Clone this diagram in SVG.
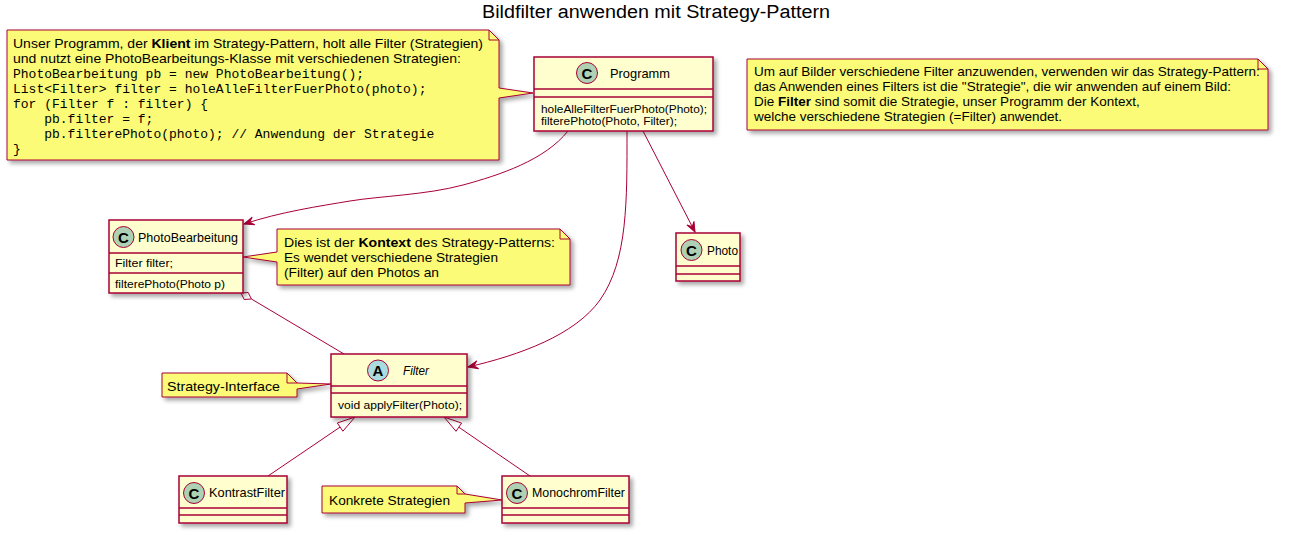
<svg xmlns="http://www.w3.org/2000/svg" width="1303" height="533" viewBox="0 0 1303 533">
<defs>
<filter id="sh" x="-10%" y="-10%" width="130%" height="140%">
<feDropShadow dx="3" dy="3" stdDeviation="2" flood-color="#000" flood-opacity="0.35"/>
</filter>
<marker id="arr" viewBox="-11 -5 12 10" refX="0" refY="0" markerWidth="12" markerHeight="10" orient="auto" markerUnits="userSpaceOnUse">
<path d="M0,0 L-10,-4 L-6,0 L-10,4 Z" fill="#A80036" stroke="#A80036" stroke-width="1"/>
</marker>
</defs>
<style>
.cls{fill:#FEFECE;stroke:#A80036;stroke-width:1.5;filter:url(#sh)}
.sep{stroke:#A80036;stroke-width:1.5;fill:none}
.note{fill:#FBFB77;stroke:#A80036;stroke-width:1;filter:url(#sh)}
.fold{fill:none;stroke:#A80036;stroke-width:1}
.t{font-family:"Liberation Sans",Arial,sans-serif;fill:#000}
.nt{font-family:"Liberation Sans",Arial,sans-serif;font-size:13.5px;fill:#000}
.mono{font-family:"Liberation Mono","Courier New",monospace;font-size:13px;fill:#000}
.name{font-family:"Liberation Sans",Arial,sans-serif;font-size:13px;fill:#000}
.mem{font-family:"Liberation Sans",Arial,sans-serif;font-size:11px;fill:#000}
.circC{fill:#ADD1B2;stroke:#A80036;stroke-width:1}
.circA{fill:#A9DCDF;stroke:#A80036;stroke-width:1}
.ltr{font-family:"Liberation Sans",Arial,sans-serif;font-size:15px;font-weight:bold;fill:#000;text-anchor:middle}
.edge{fill:none;stroke:#A80036;stroke-width:1}
</style>
<rect width="1303" height="533" fill="#FFFFFF"/>
<text class="t" x="656" y="18" font-size="18" text-anchor="middle" textLength="348" lengthAdjust="spacingAndGlyphs">Bildfilter anwenden mit Strategy-Pattern</text>

<g id="connectors">
<path class="edge" d="M568,131 C545,160 500,175 463,185 S380,196 350,201 S280,212 244,224" marker-end="url(#arr)"/>
<path class="edge" d="M627,131 C627,200 628,260 600,300 C575,335 520,355 468,367" marker-end="url(#arr)"/>
<path class="edge" d="M643,131 L695,232" marker-end="url(#arr)"/>
<path class="edge" d="M251.4,299 L344,354"/>
<polygon points="241,293 248.2,292.5 251.4,299 244.2,299.5" fill="#FFFFFF" stroke="#A80036" stroke-width="1"/>
<path class="edge" d="M268,476 L340.1,427.1"/>
<polygon points="355,417 342.9,431.2 337.3,423" fill="#FFFFFF" stroke="#A80036" stroke-width="1"/>
<path class="edge" d="M530,476 L458.8,427.2"/>
<polygon points="444,417 461.6,423.1 456,431.3" fill="#FFFFFF" stroke="#A80036" stroke-width="1"/>
</g>

<g id="note-klient">
<path class="note" d="M7,30 L489,30 L499,40 L499,88 L533,93 L499,98 L499,160 L7,160 Z"/>
<path class="fold" d="M489,30 L489,40 L499,40"/>
<text class="nt" x="13" y="47.5" textLength="470" lengthAdjust="spacingAndGlyphs">Unser Programm, der <tspan font-weight="bold">Klient</tspan> im Strategy-Pattern, holt alle Filter (Strategien)</text>
<text class="nt" x="13" y="62.5" textLength="448" lengthAdjust="spacingAndGlyphs">und nutzt eine PhotoBearbeitungs-Klasse mit verschiedenen Strategien:</text>
<text class="mono" x="13" y="77.5">PhotoBearbeitung pb = new PhotoBearbeitung();</text>
<text class="mono" x="13" y="92.5">List&lt;Filter&gt; filter = holeAlleFilterFuerPhoto(photo);</text>
<text class="mono" x="13" y="107.5">for (Filter f : filter) {</text>
<text class="mono" x="44.2" y="122.5">pb.filter = f;</text>
<text class="mono" x="44.2" y="137.5">pb.filterePhoto(photo); // Anwendung der Strategie</text>
<text class="mono" x="13" y="152.5">}</text>
</g>

<g id="note-info">
<path class="note" d="M747,59 L1258,59 L1268,69 L1268,130 L747,130 Z"/>
<path class="fold" d="M1258,59 L1258,69 L1268,69"/>
<text class="nt" x="754" y="76">Um auf Bilder verschiedene Filter anzuwenden, verwenden wir das Strategy-Pattern:</text>
<text class="nt" x="754" y="91">das Anwenden eines Filters ist die "Strategie", die wir anwenden auf einem Bild:</text>
<text class="nt" x="754" y="106">Die <tspan font-weight="bold">Filter</tspan> sind somit die Strategie, unser Programm der Kontext,</text>
<text class="nt" x="754" y="121">welche verschiedene Strategien (=Filter) anwendet.</text>
</g>

<g id="Programm">
<rect class="cls" x="534" y="57" width="179" height="74"/>
<line class="sep" x1="534" y1="89" x2="713" y2="89"/>
<line class="sep" x1="534" y1="97" x2="713" y2="97"/>
<circle class="circC" cx="587" cy="73" r="10.5"/>
<text class="ltr" x="587" y="78.5">C</text>
<text class="name" x="610" y="77.5" textLength="60" lengthAdjust="spacingAndGlyphs">Programm</text>
<text class="mem" x="541" y="113" textLength="166" lengthAdjust="spacingAndGlyphs">holeAlleFilterFuerPhoto(Photo);</text>
<text class="mem" x="541" y="124.5" textLength="136" lengthAdjust="spacingAndGlyphs">filterePhoto(Photo, Filter);</text>
</g>

<g id="PhotoBearbeitung">
<rect class="cls" x="109" y="220" width="134" height="73"/>
<line class="sep" x1="109" y1="253" x2="243" y2="253"/>
<line class="sep" x1="109" y1="273" x2="243" y2="273"/>
<circle class="circC" cx="123.5" cy="237" r="10.5"/>
<text class="ltr" x="123.5" y="242.5">C</text>
<text class="name" x="138" y="241.5" textLength="100" lengthAdjust="spacingAndGlyphs">PhotoBearbeitung</text>
<text class="mem" x="115" y="267" textLength="58" lengthAdjust="spacingAndGlyphs">Filter filter;</text>
<text class="mem" x="115" y="288" textLength="110" lengthAdjust="spacingAndGlyphs">filterePhoto(Photo p)</text>
</g>

<g id="note-kontext">
<path class="note" d="M277,229 L560,229 L570,239 L570,285 L277,285 L277,262 L243,257 L277,252 Z"/>
<path class="fold" d="M560,229 L560,239 L570,239"/>
<text class="nt" x="284" y="247" textLength="271" lengthAdjust="spacingAndGlyphs">Dies ist der <tspan font-weight="bold">Kontext</tspan> des Strategy-Patterns:</text>
<text class="nt" x="284" y="262" textLength="214" lengthAdjust="spacingAndGlyphs">Es wendet verschiedene Strategien</text>
<text class="nt" x="284" y="276.5" textLength="155" lengthAdjust="spacingAndGlyphs">(Filter) auf den Photos an</text>
</g>

<g id="Photo">
<rect class="cls" x="676" y="233" width="64" height="48"/>
<line class="sep" x1="676" y1="266" x2="740" y2="266"/>
<line class="sep" x1="676" y1="274" x2="740" y2="274"/>
<circle class="circC" cx="691.5" cy="250" r="10.5"/>
<text class="ltr" x="691.5" y="255.5">C</text>
<text class="name" x="707" y="254.5" textLength="31" lengthAdjust="spacingAndGlyphs">Photo</text>
</g>

<g id="Filter">
<rect class="cls" x="331" y="354" width="136" height="63"/>
<line class="sep" x1="331" y1="386" x2="467" y2="386"/>
<line class="sep" x1="331" y1="393" x2="467" y2="393"/>
<circle class="circA" cx="378" cy="370.5" r="10.5"/>
<text class="ltr" x="378" y="376">A</text>
<text class="name" x="403" y="375" font-style="italic" textLength="26" lengthAdjust="spacingAndGlyphs">Filter</text>
<text class="mem" x="338" y="409" textLength="124" lengthAdjust="spacingAndGlyphs">void applyFilter(Photo);</text>
</g>

<g id="note-interface">
<path class="note" d="M162,373 L287,373 L297,383 L331,384 L297,389 L297,397 L162,397 Z"/>
<path class="fold" d="M287,373 L287,383 L297,383"/>
<text class="nt" x="167" y="390.5" textLength="113" lengthAdjust="spacingAndGlyphs">Strategy-Interface</text>
</g>

<g id="KontrastFilter">
<rect class="cls" x="179" y="476" width="108" height="47"/>
<line class="sep" x1="179" y1="508" x2="287" y2="508"/>
<line class="sep" x1="179" y1="515" x2="287" y2="515"/>
<circle class="circC" cx="194" cy="493" r="10.5"/>
<text class="ltr" x="194" y="498.5">C</text>
<text class="name" x="209" y="497" textLength="76" lengthAdjust="spacingAndGlyphs">KontrastFilter</text>
</g>

<g id="MonochromFilter">
<rect class="cls" x="502" y="476" width="127" height="47"/>
<line class="sep" x1="502" y1="508" x2="629" y2="508"/>
<line class="sep" x1="502" y1="515" x2="629" y2="515"/>
<circle class="circC" cx="517" cy="493" r="10.5"/>
<text class="ltr" x="517" y="498.5">C</text>
<text class="name" x="532" y="497" textLength="93" lengthAdjust="spacingAndGlyphs">MonochromFilter</text>
</g>

<g id="note-konkret">
<path class="note" d="M322,486 L457,486 L465,494 L502,500 L465,503 L465,513 L322,513 Z"/>
<path class="fold" d="M457,486 L457,494 L465,494"/>
<text class="nt" x="329" y="504.5" textLength="121" lengthAdjust="spacingAndGlyphs">Konkrete Strategien</text>
</g>
</svg>
